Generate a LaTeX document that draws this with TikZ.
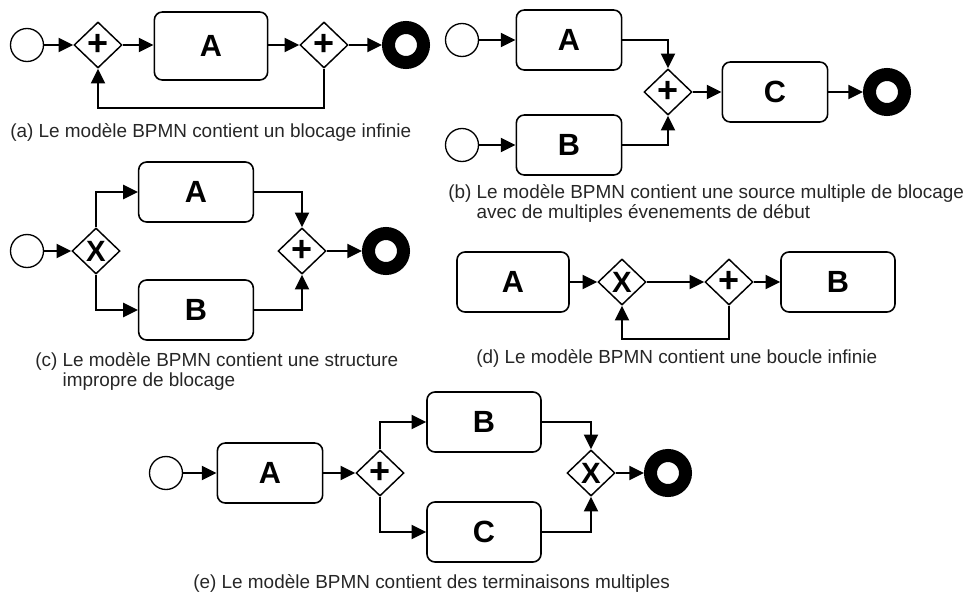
\documentclass[tikz,border=0pt]{standalone}
\usepackage{fontspec}
\setmainfont{Liberation Sans}
\usepackage{tikz}
\usetikzlibrary{shapes.geometric}
\usetikzlibrary{arrows.meta}

\newcommand{\twolines}[2]{#1 \begin{tabular}[t]{@{}l@{}}#2\end{tabular}}

\begin{document}
\begin{tikzpicture}[x=0.75pt,y=-0.75pt]
        \tikzset{task/.style = {draw, fill=white, rounded corners=6pt, line width=1.2pt, minimum width=85pt, minimum height=45pt, font=\fontsize{23}{23}\selectfont\bfseries}}
        \tikzset{gw/.style = {draw, diamond, fill=white, line width=1.1pt, inner sep=0pt, minimum width=36pt, minimum height=34.5pt, font=\fontsize{27}{27}\selectfont\bfseries}}
        \tikzset{gwx/.style = {gw, font=\fontsize{22}{22}\selectfont\bfseries}}
        \tikzset{startev/.style = {draw, circle, line width=1pt, inner sep=0pt, minimum size=24.75pt}}
        \tikzset{endev/.style = {draw, circle, line width=9.75pt, inner sep=0pt, minimum size=26.25pt}}
        \tikzset{flow/.style = {-{Triangle[length=11pt,width=10.5pt]}, line width=1.6pt}}
        \tikzset{capt/.style = {anchor=base west, inner sep=0pt, font=\fontsize{14.2}{15.5}\selectfont, text=black!85}}

        \useasboundingbox (0,0) rectangle (965,593);

        \node[startev] (sa) at (27,45) {};
        \node[gw] (ga1) at (98,45) {+};
        \node[task, minimum height=51pt] (ta) at (211,46) {A};
        \node[gw] (ga2) at (324,45) {+};
        \node[endev] (ea) at (406,45) {};
        \coordinate (la) at (211,108);

        \draw[flow] (sa) -- (ga1);
        \draw[flow] (ga1) -- (ga1 -| ta.west);
        \draw[flow] (ga2 -| ta.east) -- (ga2);
        \draw[flow] (ga2) -- (ea);
        \draw[flow] (ga2.south) |- (la) -| (ga1.south);

        \node[capt] (capa) at (10,137) {(a) Le modèle BPMN contient un blocage infinie};

        \node[startev] (sb1) at (462,40) {};
        \node[startev] (sb2) at (462,145) {};
        \node[task, minimum width=79pt] (tbA) at (569,40) {A};
        \node[task, minimum width=79pt] (tbB) at (569,145) {B};
        \node[gw] (gb) at (668,92) {+};
        \node[task, minimum width=79pt] (tbC) at (775,92) {C};
        \node[endev] (eb) at (887,92) {};

        \draw[flow] (sb1) -- (tbA);
        \draw[flow] (sb2) -- (tbB);
        \draw[flow] (tbA) -| (gb);
        \draw[flow] (tbB) -| (gb);
        \draw[flow] (gb) -- (tbC);
        \draw[flow] (tbC) -- (eb);

        \node[capt] (capb) at (448,198) {\twolines{(b)}{Le modèle BPMN contient une source multiple de blocage\\avec de multiples évenements de début}};

        \node[startev] (sc) at (27,251) {};
        \node[gwx] (gc1) at (96,251) {X};
        \node[task, minimum width=86pt] (tcA) at (196,192) {A};
        \node[task, minimum width=86pt] (tcB) at (196,310) {B};
        \node[gw] (gc2) at (302,251) {+};
        \node[endev] (ec) at (386,251) {};

        \draw[flow] (sc) -- (gc1);
        \draw[flow] (gc1) |- (tcA);
        \draw[flow] (gc1) |- (tcB);
        \draw[flow] (tcA) -| (gc2);
        \draw[flow] (tcB) -| (gc2);
        \draw[flow] (gc2) -- (ec);

        \node[capt] (capc) at (35,366) {\twolines{(c)}{Le modèle BPMN contient une structure\\impropre de blocage}};

        \node[task, minimum width=84pt] (tdA) at (513,282) {A};
        \node[gwx] (gd1) at (622,282) {X};
        \node[gw] (gd2) at (729,282) {+};
        \node[task, minimum width=85.5pt] (tdB) at (838,282) {B};
        \coordinate (ld) at (675,339);

        \draw[flow] (tdA) -- (gd1);
        \draw[flow] (gd1) -- (gd2);
        \draw[flow] (gd2) -- (tdB);
        \draw[flow] (gd2.south) |- (ld) -| (gd1.south);

        \node[capt] (capd) at (476,363) {(d) Le modèle BPMN contient une boucle infinie};

        \node[startev] (se) at (166,473) {};
        \node[task, minimum width=79pt] (teA) at (270,473) {A};
        \node[gw] (ge1) at (380,473) {+};
        \node[task, minimum width=85.5pt] (teB) at (484,422) {B};
        \node[task, minimum width=85.5pt] (teC) at (484,532) {C};
        \node[gwx] (ge2) at (591,473) {X};
        \node[endev] (ee) at (668,473) {};

        \draw[flow] (se) -- (teA);
        \draw[flow] (teA) -- (ge1);
        \draw[flow] (ge1) |- (teB);
        \draw[flow] (ge1) |- (teC);
        \draw[flow] (teB) -| (ge2);
        \draw[flow] (teC) -| (ge2);
        \draw[flow] (ge2) -- (ee);

        \node[capt] (cape) at (193,588) {(e) Le modèle BPMN contient des terminaisons multiples};

\end{tikzpicture}
\end{document}
